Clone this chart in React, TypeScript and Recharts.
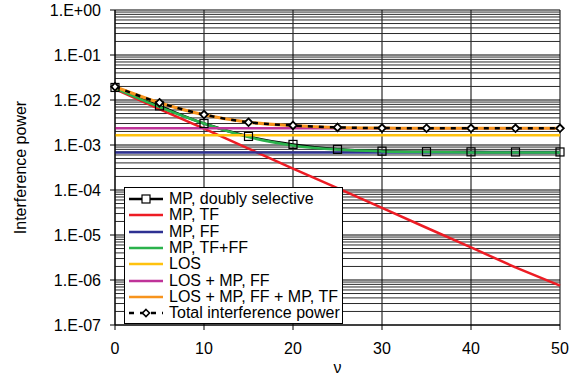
import React from "react";
import {
  LineChart,
  Line,
  XAxis,
  YAxis,
  CartesianGrid,
  ReferenceLine,
  Legend,
  Label,
} from "recharts";

// ---- data ----
const nu = [0, 5, 10, 15, 20, 25, 30, 35, 40, 45, 50];
const mpDoubly = [1.9e-2, 7.4e-3, 3.0e-3, 1.55e-3, 1.03e-3, 8.0e-4, 7.3e-4, 7.1e-4, 7.05e-4, 7.0e-4, 7.0e-4];
const mpTF = [1.75e-2, 6.3e-3, 2.3e-3, 8.3e-4, 3.0e-4, 1.1e-4, 4.0e-5, 1.45e-5, 5.3e-6, 1.9e-6, 7.5e-7];
const mpFF = [6.8e-4, 6.8e-4, 6.8e-4, 6.8e-4, 6.8e-4, 6.8e-4, 6.8e-4, 6.8e-4, 6.8e-4, 6.8e-4, 6.8e-4];
const mpTFFF = [1.82e-2, 7.0e-3, 3.0e-3, 1.5e-3, 9.8e-4, 7.9e-4, 7.2e-4, 6.95e-4, 6.85e-4, 6.82e-4, 6.8e-4];
const los = [1.65e-3, 1.65e-3, 1.65e-3, 1.65e-3, 1.65e-3, 1.65e-3, 1.65e-3, 1.65e-3, 1.65e-3, 1.65e-3, 1.65e-3];
const losMpFF = [2.35e-3, 2.35e-3, 2.35e-3, 2.35e-3, 2.35e-3, 2.35e-3, 2.35e-3, 2.35e-3, 2.35e-3, 2.35e-3, 2.35e-3];
const losAll = [1.97e-2, 8.7e-3, 4.7e-3, 3.2e-3, 2.7e-3, 2.45e-3, 2.38e-3, 2.36e-3, 2.35e-3, 2.35e-3, 2.35e-3];
const total = [1.97e-2, 8.7e-3, 4.75e-3, 3.2e-3, 2.72e-3, 2.46e-3, 2.38e-3, 2.36e-3, 2.35e-3, 2.35e-3, 2.35e-3];

const xTicks = [0, 10, 20, 30, 40, 50];
const yTicks = [1e-7, 1e-6, 1e-5, 1e-4, 1e-3, 1e-2, 1e-1, 1];
const yTickLabels = ["1.E-07", "1.E-06", "1.E-05", "1.E-04", "1.E-03", "1.E-02", "1.E-01", "1.E+00"];
const minorMultipliers = [2, 3, 4, 5, 6, 7, 8, 9];

const minorGrid = yTicks.slice(0, -1).flatMap((d) => minorMultipliers.map((m) => d * m));

const data = nu.map((x, i) => ({
  x,
  mpDoubly: mpDoubly[i],
  mpTF: mpTF[i],
  mpFF: mpFF[i],
  mpTFFF: mpTFFF[i],
  los: los[i],
  losMpFF: losMpFF[i],
  losAll: losAll[i],
  total: total[i],
}));

const FONT = "Arial, 'Liberation Sans', sans-serif";

const legendItems = [
  { label: "MP, doubly selective", color: "#000", kind: "square" },
  { label: "MP, TF", color: "#ed1c24", kind: "line" },
  { label: "MP, FF", color: "#2e3192", kind: "line" },
  { label: "MP, TF+FF", color: "#2bb24c", kind: "line" },
  { label: "LOS", color: "#ffc20e", kind: "line" },
  { label: "LOS + MP, FF", color: "#bf3399", kind: "line" },
  { label: "LOS + MP, FF + MP, TF", color: "#f7941d", kind: "line" },
  { label: "Total interference power", color: "#000", kind: "dash" },
];

const Square = (props: any) => {
  const { cx, cy } = props;
  if (cx == null || cy == null) return null;
  return <rect x={cx - 4} y={cy - 4} width={8} height={8} fill="none" stroke="#000" strokeWidth={1.2} />;
};

const Diamond = (props: any) => {
  const { cx, cy } = props;
  if (cx == null || cy == null) return null;
  return (
    <path
      d={`M${cx},${cy - 3.8} L${cx + 3.8},${cy} L${cx},${cy + 3.8} L${cx - 3.8},${cy} Z`}
      fill="#fff"
      stroke="#000"
      strokeWidth={1.8}
    />
  );
};

const LegendContent = () => (
  <div
    style={{
      width: 219,
      height: 137,
      boxSizing: "border-box",
      border: "1px solid #000",
      background: "#fff",
      fontFamily: FONT,
      fontSize: 16,
      paddingTop: 3,
    }}
  >
    {legendItems.map((it) => (
      <div key={it.label} style={{ display: "flex", alignItems: "center", height: 16.3, whiteSpace: "nowrap" }}>
        <svg width={44} height={16} style={{ flex: "none" }}>
          {it.kind === "dash" ? (
            <g>
              <line x1={4} x2={38} y1={8} y2={8} stroke="#000" strokeWidth={2.5} strokeDasharray="5 6" />
              <path d="M21,4.5 L24.5,8 L21,11.5 L17.5,8 Z" fill="#fff" stroke="#000" strokeWidth={1.6} />
            </g>
          ) : (
            <g>
              <line x1={4} x2={38} y1={8} y2={8} stroke={it.color} strokeWidth={2.5} />
              {it.kind === "square" && (
                <rect x={17} y={4} width={8} height={8} fill="#fff" stroke="#000" strokeWidth={1.2} />
              )}
            </g>
          )}
        </svg>
        <span style={{ lineHeight: "16px" }}>{it.label}</span>
      </div>
    ))}
  </div>
);

export default function App() {
  return (
    <div style={{ position: "absolute", left: 0, top: 0, background: "#fff" }}>
      <LineChart
        width={578}
        height={378}
        data={data}
        margin={{ top: 10, right: 18, left: 0, bottom: 0 }}
        style={{ fontFamily: FONT }}
      >
        <CartesianGrid stroke="#000" strokeWidth={1} />
        {minorGrid.map((v) => (
          <ReferenceLine key={v} y={v} stroke="#2a2a2a" strokeWidth={1} ifOverflow="hidden" />
        ))}
        <XAxis
          dataKey="x"
          type="number"
          domain={[0, 50]}
          ticks={xTicks}
          tickSize={5}
          tickMargin={13}
          height={53}
          axisLine={{ stroke: "#000", strokeWidth: 1 }}
          tickLine={{ stroke: "#000" }}
          tick={{ fill: "#000", fontSize: 16, fontFamily: FONT }}
        >
          <Label
            content={(p: any) => {
              const vb = p.viewBox;
              return (
                <text x={vb.x + vb.width / 2} y={vb.y + 48} textAnchor="middle" fontSize={16} fontFamily={FONT} fill="#000">
                  ν
                </text>
              );
            }}
          />
        </XAxis>
        <YAxis
          scale="log"
          type="number"
          domain={[1e-7, 1]}
          ticks={yTicks}
          allowDataOverflow
          width={115}
          tickSize={5}
          tickMargin={9}
          interval={0}
          tickFormatter={(v: number) => yTickLabels[yTicks.findIndex((t) => Math.abs(Math.log10(t) - Math.log10(v)) < 1e-6)] ?? ""}
          axisLine={{ stroke: "#000", strokeWidth: 1 }}
          tickLine={{ stroke: "#000" }}
          tick={{ fill: "#000", fontSize: 16, fontFamily: FONT }}
        >
          <Label
            content={(p: any) => {
              const vb = p.viewBox;
              const cx = 20;
              const cy = vb.y + vb.height / 2;
              return (
                <text
                  x={cx}
                  y={cy}
                  textAnchor="middle"
                  dominantBaseline="central"
                  transform={`rotate(-90, ${cx}, ${cy})`}
                  fontSize={16}
                  fontFamily={FONT}
                  fill="#000"
                >
                  Interference power
                </text>
              );
            }}
          />
        </YAxis>
        <Legend
          layout="vertical"
          align="center"
          verticalAlign="middle"
          content={() => <LegendContent />}
          wrapperStyle={{ left: 124, top: 187, width: 219, height: 137 }}
        />
        <Line dataKey="mpDoubly" stroke="#000" strokeWidth={2.5} dot={<Square />} isAnimationActive={false} type="monotone" />
        <Line dataKey="mpTF" stroke="#ed1c24" strokeWidth={2.5} dot={false} isAnimationActive={false} type="linear" />
        <Line dataKey="mpFF" stroke="#2e3192" strokeWidth={2.5} dot={false} isAnimationActive={false} type="linear" />
        <Line dataKey="mpTFFF" stroke="#2bb24c" strokeWidth={2.5} dot={false} isAnimationActive={false} type="monotone" />
        <Line dataKey="los" stroke="#ffc20e" strokeWidth={2.5} dot={false} isAnimationActive={false} type="linear" />
        <Line dataKey="losMpFF" stroke="#bf3399" strokeWidth={2.5} dot={false} isAnimationActive={false} type="linear" />
        <Line dataKey="losAll" stroke="#f7941d" strokeWidth={3} dot={false} isAnimationActive={false} type="monotone" />
        <Line
          dataKey="total"
          stroke="#000"
          strokeWidth={2.5}
          strokeDasharray="5 6"
          dot={<Diamond />}
          isAnimationActive={false}
          type="monotone"
        />
      </LineChart>
    </div>
  );
}
